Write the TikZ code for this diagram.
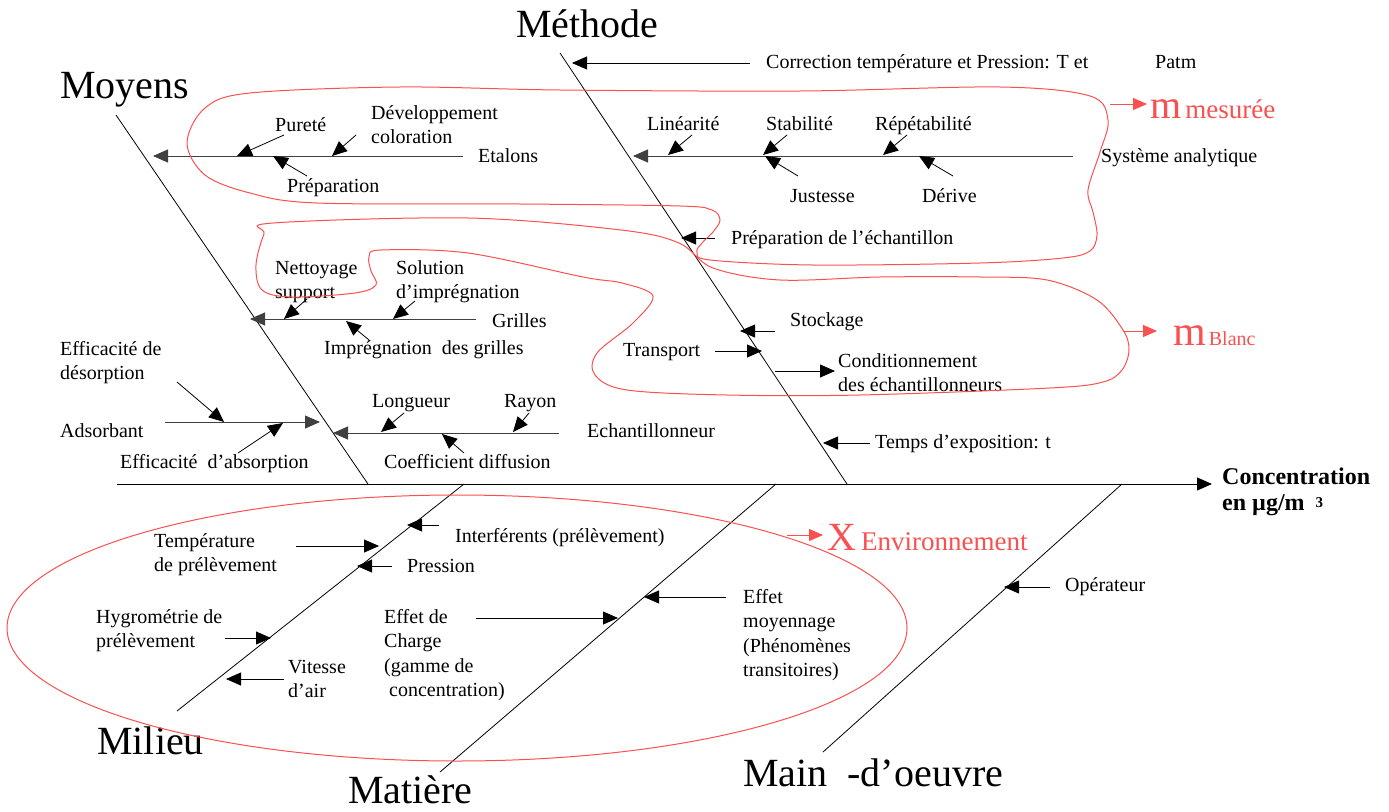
\documentclass[tikz,border=0pt]{standalone}
\usepackage{fontspec}
\setmainfont{Liberation Serif}
\usetikzlibrary{arrows.meta}
\definecolor{loopred}{RGB}{250,80,80}
\tikzset{
  lbl/.style={anchor=base west,inner sep=0pt,font=\fontsize{20}{24.5}\selectfont},
  ttl/.style={anchor=base west,inner sep=0pt,font=\fontsize{40}{48}\selectfont},
  bone/.style={line width=0.8pt},
  rib/.style={-{Triangle[length=15pt,width=13pt]},line width=1pt,black!75},
  arr/.style={-{Triangle[length=15pt,width=13pt]},line width=0.8pt},
  rarr/.style={-{Triangle[length=14pt,width=12pt]},line width=1pt,loopred},
  ring/.style={draw=loopred,line width=1pt},
}
\newcommand{\ml}[1]{\begin{tabular}[t]{@{}l@{}}#1\end{tabular}}

\begin{document}
\begin{tikzpicture}[x=1pt,y=-1pt]
  \useasboundingbox (0,0) rectangle (1389,811);

  % spine and bones
  \coordinate (sp-a) at (117,484);  \coordinate (sp-b) at (1212,484);
  \coordinate (moy-a) at (116,115); \coordinate (moy-b) at (368,484);
  \coordinate (met-a) at (560,53);  \coordinate (met-b) at (847,484);
  \coordinate (mil-a) at (464,484); \coordinate (mil-b) at (177,711);
  \coordinate (mat-a) at (776,484); \coordinate (mat-b) at (440,772);
  \coordinate (mo-a) at (1122,484); \coordinate (mo-b) at (823,752);
  \draw[rib,black] (sp-a) -- (sp-b);
  \foreach \n in {moy,met,mil,mat,mo} \draw[bone] (\n-a) -- (\n-b);

  \node[ttl] (moyens) at (60,98) {Moyens};
  \node[ttl] (methode) at (516,37) {Méthode};
  \node[ttl] (milieu) at (97,754) {Milieu};
  \node[ttl] (matiere) at (348,803) {Matière};
  \node[ttl] (maindo) at (743,786) {Main\ \ -d’oeuvre};
  \node[anchor=base west,inner sep=0pt,font=\fontsize{24}{26}\selectfont\bfseries] (conc) at (1222,484)
    {\ml{Concentration\\en µg/m\hspace{11pt}{\fontsize{15}{15}\selectfont\raisebox{3pt}{3}}}};

  % branches
  \coordinate (eta-a) at (463,156); \coordinate (eta-b) at (153,156);
  \coordinate (sys-a) at (1073,156); \coordinate (sys-b) at (633,156);
  \coordinate (gri-a) at (476,319); \coordinate (gri-b) at (250,319);
  \coordinate (ech-a) at (559,433); \coordinate (ech-b) at (333,433);
  \coordinate (ads-a) at (165,422); \coordinate (ads-b) at (320,422);
  \foreach \n in {eta,sys,gri,ech,ads} \draw[rib] (\n-a) -- (\n-b);

  \node[lbl] (eta) at (478,162) {Etalons};
  \node[lbl] (sys) at (1101,162) {Système analytique};
  \node[lbl] (gri) at (492,327) {Grilles};
  \node[lbl] (ech) at (587,437) {Echantillonneur};
  \node[lbl] (ads) at (60,437) {Adsorbant};

  % causes
  \node[lbl] (cor) at (766,68) {Correction température et Pression: T et};
  \node[lbl] (patm) at (1155,68) {Patm};
  \node[lbl] (pur) at (275,131) {Pureté};
  \node[lbl] (dev) at (371,119) {\ml{Développement\\coloration}};
  \node[lbl] (prep) at (287,192) {Préparation};
  \node[lbl] (lin) at (647,130) {Linéarité};
  \node[lbl] (stab) at (766,130) {Stabilité};
  \node[lbl] (rep) at (875,130) {Répétabilité};
  \node[lbl] (jus) at (790,202) {Justesse};
  \node[lbl] (der) at (922,202) {Dérive};
  \node[lbl] (pre) at (731,244) {Préparation de l’échantillon};
  \node[lbl] (net) at (275,274) {\ml{Nettoyage\\support}};
  \node[lbl] (sol) at (396,274) {\ml{Solution\\d’imprégnation}};
  \node[lbl] (imp) at (324,354) {Imprégnation\ \ des grilles};
  \node[lbl] (sto) at (790,326) {Stockage};
  \node[lbl] (tra) at (623,356) {Transport};
  \node[lbl] (cond) at (838,367) {\ml{Conditionnement\\des échantillonneurs}};
  \node[lbl] (tps) at (875,448) {Temps d’exposition: t};
  \node[lbl] (lon) at (372,407) {Longueur};
  \node[lbl] (ray) at (504,407) {Rayon};
  \node[lbl] (coef) at (384,468) {Coefficient diffusion};
  \node[lbl] (efd) at (60,355) {\ml{Efficacité de\\désorption}};
  \node[lbl] (efa) at (120,468) {Efficacité\ \ d’absorption};
  \node[lbl] (int) at (455,542) {Interférents (prélèvement)};
  \node[lbl] (temp) at (154,547) {\ml{Température\\de prélèvement}};
  \node[lbl] (pres) at (407,572) {Pression};
  \node[lbl] (hyg) at (96,623) {\ml{Hygrométrie de\\prélèvement}};
  \node[lbl] (vit) at (288,673) {\ml{Vitesse\\d’air}};
  \node[lbl] (chg) at (384,623) {\ml{Effet de\\Charge\\(gamme de\\\hspace{5pt}concentration)}};
  \node[lbl] (moyn) at (743,603) {\ml{Effet\\moyennage\\(Phénomènes\\transitoires)}};
  \node[lbl] (ope) at (1065,591) {Opérateur};

  \coordinate (cor-a) at (750,63);  \coordinate (cor-b) at (572,63);
  \coordinate (pur-a) at (284,135); \coordinate (pur-b) at (237,156);
  \coordinate (dev-a) at (356,135); \coordinate (dev-b) at (332,156);
  \coordinate (prep-a) at (307,176); \coordinate (prep-b) at (273,156);
  \coordinate (lin-a) at (692,135); \coordinate (lin-b) at (668,155);
  \coordinate (stab-a) at (787,135); \coordinate (stab-b) at (763,155);
  \coordinate (rep-a) at (907,135); \coordinate (rep-b) at (883,155);
  \coordinate (jus-a) at (798,176); \coordinate (jus-b) at (765,156);
  \coordinate (der-a) at (953,176); \coordinate (der-b) at (919,156);
  \coordinate (pre-a) at (715,238); \coordinate (pre-b) at (681,238);
  \coordinate (net-a) at (307,299); \coordinate (net-b) at (284,319);
  \coordinate (sol-a) at (415,301); \coordinate (sol-b) at (393,319);
  \coordinate (imp-a) at (369,340); \coordinate (imp-b) at (346,321);
  \coordinate (sto-a) at (775,331); \coordinate (sto-b) at (740,331);
  \coordinate (tra-a) at (715,351); \coordinate (tra-b) at (762,351);
  \coordinate (cond-a) at (775,371); \coordinate (cond-b) at (835,371);
  \coordinate (tps-a) at (870,443); \coordinate (tps-b) at (823,443);
  \coordinate (lon-a) at (404,413); \coordinate (lon-b) at (381,432);
  \coordinate (ray-a) at (529,413); \coordinate (ray-b) at (513,432);
  \coordinate (coef-a) at (464,453); \coordinate (coef-b) at (442,434);
  \coordinate (efd-a) at (177,382); \coordinate (efd-b) at (224,422);
  \coordinate (efa-a) at (238,453); \coordinate (efa-b) at (283,423);
  \coordinate (int-a) at (439,525); \coordinate (int-b) at (407,525);
  \coordinate (temp-a) at (296,546); \coordinate (temp-b) at (379,546);
  \coordinate (pres-a) at (392,566); \coordinate (pres-b) at (357,566);
  \coordinate (hyg-a) at (225,638); \coordinate (hyg-b) at (271,638);
  \coordinate (vit-a) at (284,679); \coordinate (vit-b) at (226,679);
  \coordinate (chg-a) at (476,618); \coordinate (chg-b) at (618,618);
  \coordinate (moyn-a) at (726,597); \coordinate (moyn-b) at (644,597);
  \coordinate (ope-a) at (1050,587); \coordinate (ope-b) at (1004,587);
  \foreach \n in {cor,pur,dev,prep,lin,stab,rep,jus,der,pre,net,sol,imp,sto,tra,cond,tps,
    lon,ray,coef,efd,efa,int,temp,pres,hyg,vit,chg,moyn,ope}
    \draw[arr] (\n-a) -- (\n-b);

  % red groupings
  \draw[ring] plot[smooth cycle,tension=0.55] coordinates {
    (187,143) (205,108) (250,93) (400,87) (560,90) (800,91) (1000,87) (1090,96)
    (1108,120) (1100,152) (1088,190) (1093,212) (1097,235) (1090,251) (1063,258)
    (980,263) (813,265) (710,260) (697,252) (702,243) (713,232) (720,220) (712,210)
    (680,206) (520,204) (317,203) (250,193) (205,175)};
  \draw[ring] plot[smooth cycle,tension=0.55] coordinates {
    (273,223) (468,218) (621,230) (679,243) (713,268) (780,280) (880,277) (980,277)
    (1047,280) (1097,300) (1123,330) (1129,350) (1122,370) (1103,382) (1050,388)
    (860,395) (727,395) (627,390) (595,375) (597,353) (633,323) (653,296) (622,283)
    (583,277) (468,253) (381,250) (369,257) (371,271) (376,285) (355,293) (292,297)
    (262,290) (256,265) (264,234)};
  \draw[ring] (457,628) ellipse[x radius=450,y radius=133];

  \coordinate (mes-a) at (1110,104); \coordinate (mes-b) at (1147,104);
  \coordinate (bla-a) at (1123,331); \coordinate (bla-b) at (1157,331);
  \coordinate (env-a) at (787,535);  \coordinate (env-b) at (823,535);
  \foreach \n in {mes,bla,env} \draw[rarr] (\n-a) -- (\n-b);

  \node[anchor=base west,inner sep=0pt,text=loopred] (mes) at (1150,118)
    {\fontsize{40}{40}\selectfont m\hspace{4pt}\fontsize{27}{27}\selectfont mesurée};
  \node[anchor=base west,inner sep=0pt,text=loopred] (bla) at (1173,345)
    {\fontsize{42}{42}\selectfont m\hspace{3pt}\fontsize{20}{20}\selectfont Blanc};
  \node[anchor=base west,inner sep=0pt,text=loopred] (env) at (827,550)
    {\fontsize{40}{40}\selectfont X\hspace{5pt}\fontsize{27}{27}\selectfont Environnement};
\end{tikzpicture}
\end{document}
